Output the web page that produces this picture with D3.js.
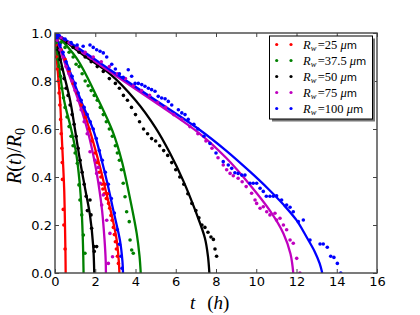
<!DOCTYPE html>
<html><head><meta charset="utf-8">
<script src="https://cdn.jsdelivr.net/npm/d3@7"></script>
<style>body{margin:0;background:#fff}</style>
</head><body><svg id="c" width="420" height="315"></svg>
<script>
// ---------- data ----------
const radii = ["25", "37.5", "50", "75", "100"];
const xTicks = [0, 2, 4, 6, 8, 10, 12, 14, 16];
const yTicks = [0, 0.2, 0.4, 0.6, 0.8, 1.0];

// fitted curves [t (h), R/R0]
const fitRed1 = [[0,1],[0.12,0.86],[0.25,0.72],[0.33,0.58],[0.41,0.44],[0.46,0.34],[0.5,0.18],[0.52,0.08],[0.53,0]];
const fitRed2 = [[0,1],[0.6,0.86],[1.24,0.72],[1.82,0.568],[2.24,0.44],[2.5,0.35],[2.82,0.24],[3.06,0.14],[3.17,0.05],[3.2,0]];
const fitGreen1 = [[0,1],[0.2,0.86],[0.45,0.72],[0.8,0.6],[1.05,0.5],[1.22,0.38],[1.33,0.25],[1.39,0.12],[1.42,0]];
const fitGreen2 = [[0,1],[1.08,0.894],[2.07,0.735],[2.9,0.582],[3.31,0.47],[3.64,0.346],[4.06,0.165],[4.2,0.07],[4.26,0]];
const fitBlack1 = [[0,1],[0.35,0.86],[0.75,0.72],[0.99,0.6],[1.24,0.47],[1.5,0.35],[1.74,0.24],[1.9,0.11],[1.95,0]];
const fitBlack2 = [[0,1],[1.41,0.908],[2.73,0.83],[4.0,0.72],[5.0,0.605],[5.71,0.5],[6.37,0.385],[7.04,0.245],[7.45,0.145],[7.6,0.07],[7.67,0]];
const fitMag1 = [[0,1],[0.55,0.86],[1.16,0.72],[1.66,0.58],[2.0,0.45],[2.2,0.35],[2.34,0.26],[2.46,0.14],[2.52,0.05],[2.53,0]];
const fitMag2 = [[0,1],[2.7,0.84],[5.0,0.71],[7.2,0.58],[8.5,0.48],[9.69,0.367],[10.68,0.26],[11.35,0.165],[11.7,0.08],[11.84,0]];
const fitBlue1 = [[0,1],[0.65,0.86],[1.33,0.71],[1.9,0.596],[2.32,0.47],[2.6,0.375],[2.9,0.26],[3.23,0.135],[3.35,0.05],[3.38,0]];
const fitBlue2 = [[0,1],[1.41,0.923],[2.73,0.847],[5.0,0.72],[7.2,0.596],[8.5,0.51],[9.69,0.422],[10.6,0.35],[11.35,0.285],[12.0,0.22],[12.5,0.15],[12.9,0.09],[13.15,0.04],[13.28,0]];

// measured points [t (h), R/R0]
const dotsRed1 = [[0.02,0.98],[0.05,0.95],[0.08,0.9],[0.12,0.85],[0.16,0.8],[0.2,0.75],[0.24,0.7],[0.28,0.64],[0.31,0.58],[0.34,0.52],[0.36,0.46],[0.37,0.39],[0.41,0.265],[0.44,0.2],[0.5,0.1]];
const dotsRed2 = [[0.1,0.97],[0.3,0.93],[0.5,0.89],[0.7,0.84],[0.9,0.79],[1.1,0.75],[1.3,0.7],[1.5,0.65],[1.7,0.6],[1.85,0.55],[2.0,0.5],[2.1,0.46],[2.2,0.42],[2.28,0.4],[2.33,0.37],[2.38,0.35],[2.45,0.33],[2.55,0.31],[2.62,0.33],[2.5,0.37],[2.66,0.29],[2.72,0.27],[2.78,0.24],[2.84,0.22],[2.9,0.19],[2.95,0.16],[3.0,0.13],[3.05,0.1],[3.1,0.07],[3.15,0.04]];
const dotsGreen1 = [[0.05,0.96],[0.1,0.93],[0.15,0.89],[0.2,0.86],[0.27,0.82],[0.34,0.77],[0.42,0.73],[0.5,0.69],[0.6,0.65],[0.7,0.61],[0.8,0.57],[0.9,0.53],[1.0,0.5],[1.11,0.457],[1.19,0.367],[1.24,0.304],[1.33,0.242],[1.41,0.158],[1.49,0.082]];
const dotsGreen2 = [[0.1,0.98],[0.3,0.96],[0.5,0.94],[0.7,0.92],[0.9,0.9],[1.05,0.87],[1.2,0.86],[1.35,0.83],[1.5,0.8],[1.65,0.78],[1.8,0.76],[1.95,0.74],[2.1,0.72],[2.25,0.69],[2.4,0.66],[2.55,0.63],[2.7,0.6],[2.85,0.57],[3.0,0.53],[3.1,0.5],[3.2,0.47],[3.3,0.43],[3.39,0.374],[3.48,0.318],[3.56,0.255],[3.69,0.214],[3.73,0.1375],[3.81,0.096],[3.89,0.082]];
const dotsBlack1 = [[0.05,0.97],[0.15,0.93],[0.25,0.89],[0.35,0.85],[0.45,0.81],[0.55,0.77],[0.65,0.74],[0.75,0.7],[0.85,0.66],[0.95,0.62],[1.05,0.57],[1.15,0.52],[1.25,0.47],[1.35,0.42],[1.45,0.37],[1.55,0.32],[1.61,0.26],[1.74,0.304],[1.79,0.242],[1.82,0.186],[1.95,0.09],[1.94,0.11],[2.07,0.11]];
const dotsBlack2 = [[0.3,0.98],[0.6,0.96],[0.9,0.94],[1.2,0.92],[1.5,0.9],[1.8,0.88],[2.1,0.86],[2.4,0.84],[2.7,0.81],[3.0,0.79],[3.2,0.77],[3.4,0.74],[3.6,0.72],[3.8,0.69],[4.0,0.66],[4.2,0.63],[4.4,0.6],[4.6,0.58],[4.8,0.56],[5.0,0.55],[5.2,0.53],[5.4,0.51],[5.6,0.49],[5.8,0.46],[6.0,0.43],[6.2,0.4],[6.4,0.37],[6.6,0.33],[6.8,0.29],[7.0,0.26],[7.15,0.23],[7.3,0.2],[7.45,0.19],[7.6,0.17],[7.75,0.15],[7.87,0.14],[7.95,0.1],[8.03,0.07]];
const dotsMag1 = [[0.1,0.97],[0.25,0.93],[0.4,0.9],[0.55,0.86],[0.7,0.83],[0.85,0.8],[1.0,0.76],[1.15,0.72],[1.3,0.68],[1.45,0.63],[1.6,0.58],[1.74,0.505],[1.99,0.47],[2.15,0.44],[2.07,0.415],[2.24,0.374],[2.4,0.325],[2.32,0.283],[2.57,0.22],[2.73,0.165],[2.65,0.04],[2.86,0.068]];
const dotsMag2 = [[0.3,0.98],[0.7,0.96],[1.1,0.94],[1.5,0.92],[1.9,0.9],[2.3,0.88],[2.7,0.86],[3.1,0.83],[3.5,0.81],[3.9,0.78],[4.3,0.76],[4.7,0.74],[5.1,0.71],[5.5,0.69],[5.9,0.66],[6.3,0.64],[6.7,0.61],[7.1,0.58],[7.5,0.55],[7.8,0.52],[8.1,0.48],[8.36,0.45],[8.53,0.43],[8.7,0.415],[8.86,0.405],[9.1,0.395],[9.3,0.38],[9.5,0.36],[9.77,0.332],[9.94,0.304],[10.02,0.29],[10.19,0.27],[10.35,0.276],[10.52,0.255],[10.68,0.242],[10.93,0.249],[11.01,0.221],[11.18,0.228],[11.35,0.2],[11.51,0.18],[11.68,0.1375],[11.84,0.124],[12.01,0.061],[12.17,0.0]];
const dotsBlue1 = [[0.1,0.98],[0.25,0.95],[0.4,0.92],[0.55,0.88],[0.7,0.85],[0.85,0.82],[1.0,0.79],[1.15,0.75],[1.3,0.72],[1.45,0.69],[1.6,0.66],[1.75,0.63],[1.9,0.6],[2.05,0.56],[2.2,0.51],[2.35,0.47],[2.5,0.42],[2.65,0.37],[2.8,0.31],[2.95,0.25],[3.1,0.18],[3.2,0.12],[3.28,0.07],[3.33,0.02]];
const dotsBlue2 = [[0.2,0.99],[0.5,0.975],[0.8,0.96],[1.1,0.95],[1.4,0.945],[1.74,0.95],[1.9,0.94],[2.07,0.93],[2.24,0.924],[2.4,0.917],[2.57,0.9],[2.82,0.87],[3.0,0.85],[3.2,0.83],[3.39,0.815],[3.64,0.847],[3.81,0.82],[3.98,0.79],[4.14,0.79],[4.31,0.785],[4.47,0.778],[4.64,0.77],[4.8,0.764],[4.97,0.757],[5.13,0.736],[5.3,0.729],[5.47,0.726],[5.63,0.715],[5.8,0.7],[6.13,0.68],[6.3,0.667],[6.46,0.66],[6.62,0.64],[6.9,0.62],[7.1,0.6],[7.4,0.57],[7.7,0.54],[8.0,0.5],[8.36,0.464],[8.61,0.45],[8.78,0.436],[8.94,0.418],[9.1,0.415],[9.28,0.408],[9.44,0.408],[9.69,0.374],[9.85,0.374],[10.02,0.374],[10.19,0.353],[10.35,0.34],[10.5,0.32],[10.68,0.32],[10.85,0.32],[11.01,0.322],[11.26,0.304],[11.51,0.283],[11.68,0.274],[11.84,0.255],[12.09,0.214],[12.34,0.221],[12.67,0.1375],[13.17,0.121],[13.33,0.121],[13.53,0.107],[13.7,0.07],[13.86,0.065],[14.03,0.04],[14.2,0.0]];

// ---------- styles ----------
const colors = ["#ff0000", "#008000", "#000000", "#bf00bf", "#0000ff"];
const fits = [[fitRed1, fitRed2], [fitGreen1, fitGreen2], [fitBlack1, fitBlack2], [fitMag1, fitMag2], [fitBlue1, fitBlue2]];
const dots = [[dotsRed1, dotsRed2], [dotsGreen1, dotsGreen2], [dotsBlack1, dotsBlack2], [dotsMag1, dotsMag2], [dotsBlue1, dotsBlue2]];

const svg = d3.select("#c");
const L = 55, R = 377, T = 33, B = 273;
const x = d3.scaleLinear().domain([0, 16]).range([L, R]);
const y = d3.scaleLinear().domain([0, 1]).range([B, T]);

svg.append("defs").append("clipPath").attr("id", "clip")
  .append("rect").attr("x", L).attr("y", T).attr("width", R - L).attr("height", B - T);

const plot = svg.append("g").attr("clip-path", "url(#clip)");
const line = d3.line().x(d => x(d[0])).y(d => y(d[1])).curve(d3.curveCatmullRom.alpha(0.5));

fits.forEach((pair, i) => {
  pair.forEach(f => {
    plot.append("path").attr("d", line(f)).attr("fill", "none")
      .attr("stroke", colors[i]).attr("stroke-width", 2.3);
  });
});
dots.forEach((pair, i) => {
  pair.forEach(ds => {
    plot.append("g").selectAll("circle").data(ds).join("circle")
      .attr("cx", d => x(d[0])).attr("cy", d => y(d[1])).attr("r", 1.8)
      .attr("fill", colors[i]);
  });
});

// axes
const axColor = "#444";
const fmtY = d3.format(".1f");
const gx = svg.append("g").attr("transform", `translate(0,${B})`)
  .call(d3.axisBottom(x).tickValues(xTicks).tickSize(-4).tickPadding(4).tickFormat(d3.format("d")));
const gy = svg.append("g").attr("transform", `translate(${L},0)`)
  .call(d3.axisLeft(y).tickValues(yTicks).tickSize(-4).tickPadding(3).tickFormat(fmtY));
const gt = svg.append("g").attr("transform", `translate(0,${T})`)
  .call(d3.axisTop(x).tickValues(xTicks).tickSize(-4).tickFormat(""));
const gr = svg.append("g").attr("transform", `translate(${R},0)`)
  .call(d3.axisRight(y).tickValues(yTicks).tickSize(-4).tickFormat(""));
[gx, gy, gt, gr].forEach(g => {
  g.select(".domain").remove();
  g.selectAll("line").attr("stroke", axColor).attr("stroke-width", 1);
  g.selectAll("text").attr("fill", "#000").style("font-family", "DejaVu Sans").style("font-size", "13px");
});
svg.append("rect").attr("x", L).attr("y", T).attr("width", R - L).attr("height", B - T)
  .attr("fill", "none").attr("stroke", axColor).attr("stroke-width", 1.4);

// axis labels
const xl = svg.append("text").attr("x", 190).attr("y", 309).attr("text-anchor", "start")
  .style("font-family", "Liberation Serif").style("font-size", "19px");
xl.append("tspan").style("font-style", "italic").text("t");
xl.append("tspan").attr("dx", 12).text("(");
xl.append("tspan").style("font-style", "italic").text("h");
xl.append("tspan").text(")");

const yl = svg.append("text").attr("transform", "translate(21,156) rotate(-90)").attr("text-anchor", "middle")
  .style("font-family", "Liberation Serif").style("font-size", "20px");
yl.append("tspan").style("font-style", "italic").text("R");
yl.append("tspan").text("(");
yl.append("tspan").style("font-style", "italic").text("t");
yl.append("tspan").text(")/");
yl.append("tspan").style("font-style", "italic").text("R");
yl.append("tspan").attr("dy", 4).style("font-size", "14px").text("0");

// legend
const lg = svg.append("g");
const lx = 269.5, ly = 36, lw = 103, lh = 83;
lg.append("rect").attr("x", lx + 2.5).attr("y", ly + 2.5).attr("width", lw).attr("height", lh).attr("fill", "#777");
lg.append("rect").attr("x", lx).attr("y", ly).attr("width", lw).attr("height", lh)
  .attr("fill", "#fff").attr("stroke", "#000").attr("stroke-width", 1);
radii.forEach((r, i) => {
  const cy = 44.5 + i * 16;
  [276.7, 291].forEach(cx => lg.append("circle").attr("cx", cx).attr("cy", cy).attr("r", 1.6).attr("fill", colors[i]));
  const t = lg.append("text").attr("x", 303).attr("y", cy + 4)
    .style("font-family", "Liberation Serif").style("font-size", "12.5px");
  t.append("tspan").style("font-style", "italic").text("R");
  t.append("tspan").attr("dy", 2.5).style("font-style", "italic").style("font-size", "8.5px").text("w");
  t.append("tspan").attr("dy", -2.5).attr("dx", 1.5).text("=" + r);
  t.append("tspan").attr("dx", 3).style("font-style", "italic").text("μ");
  t.append("tspan").style("font-family", "DejaVu Sans").style("font-size", "10.5px").text("m");
});
</script></body></html>
